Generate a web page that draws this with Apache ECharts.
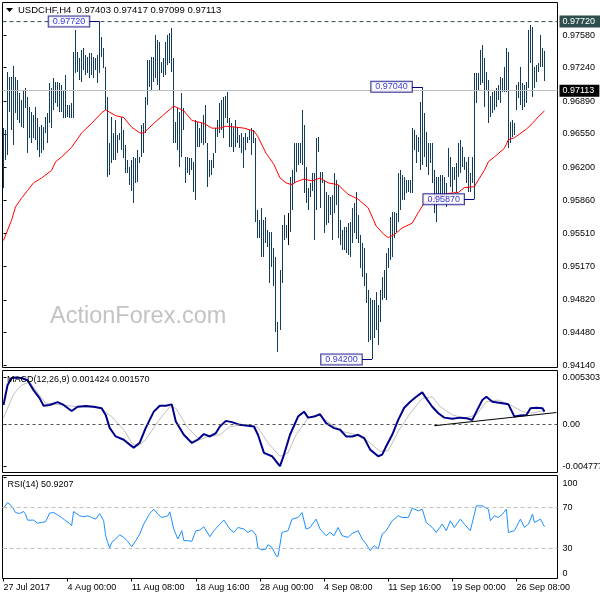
<!DOCTYPE html>
<html><head><meta charset="utf-8">
<script src="https://cdn.jsdelivr.net/npm/echarts@6/dist/echarts.min.js"></script>
<style>html,body{margin:0;padding:0;background:#fff}#c{width:600px;height:600px}</style>
</head><body><div id="c"></div>
<script>
const symbolName = 'USDCHF,H4';
const lastOHLC = ['0.97403', '0.97417', '0.97099', '0.97113'];
const highs = [
 0.9661,0.9659,0.9719,0.9714,0.9714,0.9726,0.9714,0.9711,0.9698,0.9690,
 0.9701,0.9703,0.9693,0.9683,0.9678,0.9675,0.9683,0.9672,0.9662,0.9664,
 0.9662,0.9673,0.9677,0.9708,0.9703,0.9713,0.9709,0.9709,0.9708,0.9706,
 0.9701,0.9716,0.9685,0.9685,0.9687,0.9740,0.9763,0.9740,0.9734,0.9742,
 0.9745,0.9737,0.9735,0.9739,0.9739,0.9735,0.9734,0.9737,0.9772,0.9756,
 0.9744,0.9725,0.9693,0.9646,0.9673,0.9656,0.9669,0.9654,0.9656,0.9673,
 0.9659,0.9643,0.9628,0.9620,0.9628,0.9631,0.9630,0.9638,0.9631,0.9664,
 0.9666,0.9693,0.9732,0.9732,0.9735,0.9735,0.9758,0.9753,0.9751,0.9730,
 0.9734,0.9751,0.9758,0.9760,0.9765,0.9734,0.9667,0.9682,0.9678,0.9698,
 0.9682,0.9631,0.9631,0.9630,0.9630,0.9626,0.9669,0.9667,0.9661,0.9666,
 0.9675,0.9685,0.9645,0.9628,0.9628,0.9635,0.9661,0.9669,0.9687,0.9690,
 0.9693,0.9695,0.9699,0.9672,0.9666,0.9662,0.9669,0.9662,0.9654,0.9656,
 0.9652,0.9656,0.9652,0.9659,0.9661,0.9659,0.9651,0.9576,0.9565,0.9578,
 0.9565,0.9568,0.9555,0.9553,0.9553,0.9536,0.9527,0.9459,0.9513,0.9560,
 0.9570,0.9560,0.9573,0.9610,0.9617,0.9645,0.9645,0.9645,0.9645,0.9680,
 0.9664,0.9620,0.9599,0.9604,0.9614,0.9614,0.9651,0.9652,0.9615,0.9615,
 0.9607,0.9594,0.9591,0.9589,0.9591,0.9614,0.9607,0.9602,0.9565,0.9555,
 0.9558,0.9558,0.9562,0.9563,0.9578,0.9583,0.9594,0.9570,0.9550,0.9541,
 0.9536,0.9510,0.9492,0.9484,0.9482,0.9482,0.9490,0.9477,0.9492,0.9506,
 0.9513,0.9531,0.9536,0.9568,0.9574,0.9574,0.9573,0.9614,0.9617,0.9612,
 0.9610,0.9607,0.9607,0.9607,0.9661,0.9659,0.9654,0.9652,0.9688,0.9704,
 0.9677,0.9657,0.9646,0.9645,0.9646,0.9617,0.9610,0.9610,0.9612,0.9612,
 0.9610,0.9604,0.9640,0.9631,0.9620,0.9620,0.9625,0.9645,0.9649,0.9641,
 0.9631,0.9626,0.9631,0.9614,0.9631,0.9718,0.9718,0.9718,0.9742,0.9748,
 0.9734,0.9719,0.9711,0.9695,0.9699,0.9701,0.9703,0.9706,0.9714,0.9713,
 0.9725,0.9744,0.9740,0.9667,0.9669,0.9666,0.9706,0.9709,0.9725,0.9708,
 0.9706,0.9709,0.9763,0.9768,0.9766,0.9725,0.9727,0.9729,0.9758,0.9745,
 0.97417];
const lows = [
 0.9599,0.9628,0.9633,0.9678,0.9659,0.9643,0.9677,0.9669,0.9666,0.9662,
 0.9661,0.9682,0.9635,0.9651,0.9646,0.9651,0.9649,0.9638,0.9631,0.9635,
 0.9638,0.9656,0.9646,0.9666,0.9661,0.9680,0.9687,0.9683,0.9678,0.9678,
 0.9672,0.9672,0.9673,0.9672,0.9672,0.9672,0.9718,0.9719,0.9711,0.9709,
 0.9722,0.9716,0.9718,0.9713,0.9716,0.9713,0.9722,0.9708,0.9718,0.9735,
 0.9724,0.9680,0.9610,0.9612,0.9625,0.9628,0.9628,0.9635,0.9649,0.9638,
 0.9630,0.9614,0.9614,0.9602,0.9596,0.9583,0.9604,0.9605,0.9625,0.9631,
 0.9635,0.9656,0.9685,0.9704,0.9701,0.9709,0.9713,0.9706,0.9701,0.9718,
 0.9714,0.9716,0.9727,0.9729,0.9719,0.9646,0.9646,0.9638,0.9620,0.9631,
 0.9659,0.9604,0.9614,0.9612,0.9617,0.9594,0.9586,0.9641,0.9641,0.9645,
 0.9643,0.9645,0.9600,0.9610,0.9612,0.9619,0.9635,0.9652,0.9656,0.9659,
 0.9651,0.9672,0.9666,0.9641,0.9641,0.9636,0.9641,0.9645,0.9640,0.9635,
 0.9619,0.9638,0.9645,0.9649,0.9633,0.9646,0.9563,0.9547,0.9547,0.9527,
 0.9527,0.9541,0.9537,0.9500,0.9516,0.9497,0.9449,0.9428,0.9451,0.9500,
 0.9544,0.9547,0.9539,0.9553,0.9576,0.9604,0.9615,0.9623,0.9625,0.9623,
 0.9593,0.9583,0.9576,0.9589,0.9596,0.9544,0.9576,0.9636,0.9578,0.9604,
 0.9552,0.9560,0.9562,0.9570,0.9544,0.9573,0.9581,0.9547,0.9539,0.9534,
 0.9534,0.9531,0.9529,0.9527,0.9541,0.9552,0.9546,0.9541,0.9515,0.9506,
 0.9497,0.9479,0.9438,0.9440,0.9420,0.9442,0.9451,0.9435,0.9459,0.9482,
 0.9484,0.9482,0.9515,0.9524,0.9527,0.9547,0.9553,0.9563,0.9576,0.9586,
 0.9586,0.9593,0.9594,0.9593,0.9593,0.9638,0.9625,0.9636,0.9617,0.9623,
 0.9631,0.9620,0.9612,0.9625,0.9604,0.9573,0.9563,0.9588,0.9584,0.9589,
 0.9589,0.9579,0.9610,0.9600,0.9594,0.9607,0.9594,0.9610,0.9614,0.9620,
 0.9617,0.9604,0.9594,0.9594,0.9604,0.9587,0.9687,0.9701,0.9706,0.9708,
 0.9683,0.9701,0.9666,0.9673,0.9677,0.9680,0.9683,0.9690,0.9687,0.9699,
 0.9699,0.9699,0.9640,0.9646,0.9652,0.9654,0.9680,0.9692,0.9685,0.9680,
 0.9683,0.9687,0.9703,0.9729,0.9693,0.9703,0.9709,0.9719,0.9725,0.9725,
 0.97099];
const dojiBars = [142];

const maIdx = [0,4,6,9,12,15,19,24,26,29,34,39,44,49,51,56,60,64,68,70,75,80,85,87,90,94,100,104,108,111,116,120,125,127,131,135,138,141,144,146,150,154,158,162,167,172,177,182,186,190,192,195,199,204,207,210,215,222,227,230,235,237,240,242,245,250,252,255,259,261,264,267,270];
const maVal = [0.9544,0.9565,0.9579,0.9588,0.9596,0.9604,0.9609,0.9617,0.9626,0.9631,0.9641,0.9656,0.9666,0.9677,0.9680,0.9674,0.9672,0.9662,0.9656,0.9656,0.9666,0.9675,0.9684,0.9682,0.9679,0.9669,0.9666,0.9661,0.9661,0.9663,0.9662,0.9661,0.9658,0.9652,0.9635,0.9623,0.9609,0.9604,0.9602,0.9605,0.9608,0.9606,0.9609,0.9604,0.9602,0.9592,0.9587,0.9578,0.9559,0.9550,0.9547,0.9550,0.9557,0.9562,0.9573,0.9583,0.9588,0.9593,0.9594,0.9599,0.9600,0.9607,0.9617,0.9626,0.9631,0.9640,0.9649,0.9651,0.9657,0.9660,0.9666,0.9673,0.9679];

const macdIdx = [0,2,4,6,9,12,15,18,20,23,27,30,34,37,41,45,49,51,53,56,60,63,65,68,71,75,78,81,84,86,90,94,97,100,103,106,108,111,114,118,122,125,127,130,134,136,138,140,143,147,150,152,155,158,161,165,168,171,174,177,180,183,187,189,191,194,197,200,203,206,209,211,214,217,220,224,228,231,234,236,239,241,244,249,252,255,258,261,263,266,269,270];
const macdVal = [0.00218,0.00443,0.00525,0.00530,0.00525,0.00499,0.00387,0.00296,0.00210,0.00218,
 0.00251,0.00218,0.00150,0.00198,0.00206,0.00198,0.00180,0.00105,-0.00042,-0.00140,
 -0.00177,-0.00233,-0.00267,-0.00211,-0.00042,0.00142,0.00210,0.00210,0.00225,0.00029,
 -0.00121,-0.00214,-0.00177,-0.00113,-0.00140,-0.00101,-0.00027,0.00037,0.00023,-0.00008,
 -0.00019,-0.00027,-0.00121,-0.00327,-0.00365,-0.00422,-0.004777,-0.00346,-0.00121,0.00086,
 0.00142,0.00074,0.00086,0.00113,0.00011,-0.00045,-0.00064,-0.00140,-0.00140,-0.00121,
 -0.00158,-0.00290,-0.00365,-0.00346,-0.00252,-0.00121,0.00048,0.00187,0.00255,0.00311,
 0.00361,0.00293,0.00198,0.00124,0.00074,0.00060,0.00074,0.00068,0.00048,0.00142,
 0.00274,0.00311,0.00255,0.00237,0.00225,0.00086,0.00097,0.00105,0.00180,0.00187,
 0.00180,0.001424];
const sigIdx = [0,5,9,13,21,29,37,48,54,60,64,67,71,77,83,86,92,98,102,108,113,121,127,132,138,142,146,152,157,163,169,176,182,188,192,197,203,209,214,218,224,230,236,241,247,253,259,264,270];
const sigVal = [0.00071,0.00340,0.00445,0.00480,0.00240,0.00218,0.00198,0.00187,0.00086,-0.00064,
 -0.00214,-0.00252,-0.00177,0.00029,0.00198,0.00180,-0.00045,-0.00177,-0.00140,-0.00121,
 -0.00027,-0.00008,-0.00038,-0.00214,-0.00365,-0.00327,-0.00121,0.00068,0.00105,0.00011,
 -0.00083,-0.00121,-0.00196,-0.00309,-0.00301,-0.00083,0.00124,0.00293,0.00311,0.00198,
 0.00105,0.00068,0.00105,0.00255,0.00274,0.00218,0.00142,0.00124,0.00157];
const macdTrendIdx = [215, 276];
const macdTrendVal = [-0.00018, 0.00132];

const rsiIdx = [0,2,4,6,8,10,11,12,15,17, 19,21,23,25,27,29,31,33,34,35, 38,40,42,44,46,48,50,51,52,53,
 54,56,58,60,62,64,66,68,70,73, 75,77,79,82,83,85,87,89,90,92, 94,96,98,100,103,105,108,110,113,115,
 117,120,122,124,126,127,129,131,132,134, 136,137,139,142,144,147,149,151,153,156,
 158,161,163,165,167,169,172,174,177,179, 181,183,185,187,189,191,194,197,199,202,
 204,207,209,211,214,216,219,221,223,225, 228,230,233,236,239,242,243,245,247,249,
 251,252,255,258,260,262,264,265,268,270];
const rsiVal = [69.3,74.8,71.6,65.0,64.0,66.0,63.4,57.5,57.5,54.6, 55.2,55.9,64.4,65.0,62.7,60.1,56.9,54.2,52.0,66.0,
 61.8,60.8,61.8,60.1,58.5,64.0,56.9,42.2,35.6,30.1, 35.6,38.9,43.1,40.5,36.6,31.4,37.3,43.8,53.6,64.0,
 68.3,63.4,60.1,61.8,65.7,48.7,38.9,47.1,37.3,37.3, 36.6,47.1,47.7,51.0,41.2,47.1,53.6,57.5,48.7,45.4,
 50.3,48.7,45.4,47.7,42.8,30.1,28.1,29.1,33.3,30.7, 22.5,21.6,45.4,47.1,58.5,60.1,65.0,48.7,50.3,58.5,
 48.7,42.2,45.4,42.2,50.3,42.2,40.5,44.4,47.1,38.9, 34.0,27.5,32.4,29.1,43.8,47.1,56.9,61.8,60.1,60.1,
 69.3,66.7,68.3,55.2,50.3,45.4,53.6,47.1,56.9,50.3, 58.5,53.6,47.1,71.6,71.6,68.3,56.9,61.8,60.1,63.4,
 68.3,45.4,47.1,58.5,50.3,53.6,63.4,55.2,58.5,50.92];
const rsiLevels = [70, 30];

const priceTicks = [0.94140,0.94480,0.94820,0.95170,0.95510,0.95860,0.96200,0.96550,0.96890,0.97240,0.97580];
const macdTicks = [-0.004777, 0, 0.005303];
const rsiTicks = [0, 30, 70, 100];
const timeLabelIdx = [0,32,64,96,128,160,192,224,256];
const timeLabels = ['27 Jul 2017','4 Aug 00:00','11 Aug 08:00','18 Aug 16:00','28 Aug 00:00','4 Sep 08:00','11 Sep 16:00','19 Sep 00:00','26 Sep 08:00'];
const swingIdx = [48, 209, 235, 184];
const swingVal = [0.97720, 0.97040, 0.95870, 0.94200];
const hiLevel = 0.97720;
const lastPrice = 0.97113;
const macdLabel = 'MACD(12,26,9) 0.001424 0.001570';
const rsiLabel = 'RSI(14) 50.9207';
const watermark = 'ActionForex.com';

const FONT = '"Liberation Sans", Arial, sans-serif';
const FS = 9;
const barColor = '#123d5a';
const X_MIN = -0.5, X_MAX = 276.5;
const chart = echarts.init(document.getElementById('c'), null, {renderer: 'canvas', width: 600, height: 600});
const bars = highs.map((h, i) => [i, h, lows[i], dojiBars.indexOf(i) >= 0 ? 1 : 0]);
const pairs = (a, b) => a.map((x, k) => [x, b[k]]);
const gridBase = {left: 2.5, right: 42.5, show: true, borderColor: '#000', borderWidth: 1, containLabel: false, outerBoundsMode: 'none'};
const xBase = {type: 'value', min: X_MIN, max: X_MAX, splitLine: {show: false}};
const lbl = {color: '#000', fontSize: FS, fontFamily: FONT};
const yBase = {type: 'value', position: 'right', splitLine: {show: false}, axisLine: {show: false}};
const axisBox = (bg) => ({show: true, distance: 2, color: '#fff', backgroundColor: bg,
  padding: [2, 5, 1, 3], fontSize: FS, fontFamily: FONT});

const option = {
  animation: false,
  backgroundColor: '#fff',
  textStyle: {fontFamily: FONT},
  grid: [
    Object.assign({}, gridBase, {top: 2.5, height: 365}),
    Object.assign({}, gridBase, {top: 370.5, height: 102}),
    Object.assign({}, gridBase, {top: 475.5, height: 103})
  ],
  xAxis: [
    Object.assign({}, xBase, {gridIndex: 0, show: false}),
    Object.assign({}, xBase, {gridIndex: 1, show: false}),
    Object.assign({}, xBase, {gridIndex: 2, position: 'bottom', axisLine: {show: false},
      axisTick: {show: true, customValues: timeLabelIdx, length: 3, lineStyle: {color: '#000'}},
      axisLabel: Object.assign({show: true, customValues: timeLabelIdx, align: 'left', margin: 5,
        formatter: v => timeLabels[timeLabelIdx.indexOf(Math.round(v))] || ''}, lbl)})
  ],
  yAxis: [
    Object.assign({}, yBase, {gridIndex: 0, min: 0.94116, max: 0.97919,
      axisTick: {show: true, customValues: priceTicks, length: 3, lineStyle: {color: '#000'}},
      axisLabel: Object.assign({customValues: priceTicks, margin: 5, formatter: v => v.toFixed(5)}, lbl)}),
    Object.assign({}, yBase, {gridIndex: 1, min: -0.0055, max: 0.0061,
      axisTick: {show: true, customValues: macdTicks, length: 3, lineStyle: {color: '#000'}},
      axisLabel: Object.assign({customValues: macdTicks, margin: 5, formatter: v => v === 0 ? '0.00' : v.toFixed(6)}, lbl)}),
    Object.assign({}, yBase, {gridIndex: 2, min: 0, max: 101.5,
      axisTick: {show: true, customValues: rsiTicks, length: 3, lineStyle: {color: '#000'}},
      axisLabel: Object.assign({customValues: rsiTicks, margin: 5,
        formatter: v => v === 100 ? '{t|100}' : (v === 0 ? '{b|0}' : String(v)),
        rich: {t: Object.assign({padding: [12, 0, 0, 0]}, lbl), b: Object.assign({padding: [0, 0, 10, 0]}, lbl)}}, lbl)})
  ],
  graphic: [
    {type: 'text', x: 50, y: 317, z: 0, silent: true, style: {text: watermark, fill: '#c3c3c3', font: '23.5px ' + FONT, verticalAlign: 'middle'}},
    {type: 'polygon', z: 10, shape: {points: [[6, 8], [13, 8], [9.5, 12]]}, style: {fill: '#000'}},
    {type: 'text', x: 18, y: 10.5, z: 10, style: {text: symbolName + '  ' + lastOHLC.join(' '), fill: '#000', font: '9.5px ' + FONT, verticalAlign: 'middle'}},
    {type: 'text', x: 7, y: 380, z: 10, style: {text: macdLabel, fill: '#000', font: FS + 'px ' + FONT, verticalAlign: 'middle'}},
    {type: 'text', x: 7.5, y: 485, z: 10, style: {text: rsiLabel, fill: '#000', font: FS + 'px ' + FONT, verticalAlign: 'middle'}}
  ],
  series: [
    {type: 'line', xAxisIndex: 0, yAxisIndex: 0, data: [], z: 1, silent: true,
      markLine: {silent: true, symbol: ['none', 'none'], animation: false, data: [
        {yAxis: lastPrice, lineStyle: {color: '#c0c0c0', type: 'solid', width: 1},
          label: Object.assign(axisBox('#000'), {position: 'end', formatter: lastPrice.toFixed(5)})}
      ]}},
    {type: 'custom', xAxisIndex: 0, yAxisIndex: 0, z: 2, data: bars, encode: {x: 0, y: [1, 2]}, clip: true,
      renderItem: function (params, api) {
        const i = api.value(0);
        const pH = api.coord([i, api.value(1)]);
        const pL = api.coord([i, api.value(2)]);
        const x = Math.floor(pH[0]);
        const y1 = Math.round(pH[1]);
        const y2 = Math.round(pL[1]);
        return {type: 'rect', shape: {x: x, y: y1, width: 1, height: Math.max(1, y2 - y1)},
          style: {fill: api.value(3) ? '#000' : barColor}};
      }},
    {type: 'line', xAxisIndex: 0, yAxisIndex: 0, z: 3, data: [[X_MIN, hiLevel], [X_MAX, hiLevel]], symbol: 'none',
      silent: true, clip: false, lineStyle: {color: '#2f4f4f', type: [4, 3], width: 1},
      endLabel: Object.assign(axisBox('#2f4f4f'), {formatter: () => hiLevel.toFixed(5)})},
    {type: 'line', xAxisIndex: 0, yAxisIndex: 0, z: 3, data: pairs(maIdx, maVal), symbol: 'none',
      lineStyle: {color: '#ff0000', width: 1}},
    {type: 'lines', coordinateSystem: 'cartesian2d', xAxisIndex: 0, yAxisIndex: 0, z: 4,
      lineStyle: {color: '#000080', width: 1, opacity: 1},
      data: swingIdx.map((b, k) => ({coords: [[b - 5.2, swingVal[k]], [b, swingVal[k]]]}))},
    {type: 'scatter', xAxisIndex: 0, yAxisIndex: 0, z: 5, symbolSize: 0,
      data: swingIdx.map((b, k) => [b - 5.2, swingVal[k]]),
      label: {show: true, position: 'left', distance: 0, formatter: p => p.value[1].toFixed(5),
        color: '#0000d0', backgroundColor: '#fff', borderColor: '#000080', borderWidth: 1,
        padding: [1, 4, 0, 4], fontSize: FS, fontFamily: FONT}},
    {type: 'line', xAxisIndex: 1, yAxisIndex: 1, z: 2, data: pairs(sigIdx, sigVal), symbol: 'none',
      lineStyle: {color: '#c0c0c0', width: 1}},
    {type: 'line', xAxisIndex: 1, yAxisIndex: 1, z: 3, data: pairs(macdIdx, macdVal), symbol: 'none',
      lineStyle: {color: '#00008b', width: 2},
      markLine: {silent: true, symbol: ['none', 'none'], label: {show: false},
        data: [{yAxis: 0, lineStyle: {color: '#555', type: [3, 3], width: 1}}]}},
    {type: 'line', xAxisIndex: 1, yAxisIndex: 1, z: 4, data: pairs(macdTrendIdx, macdTrendVal), symbol: 'none',
      lineStyle: {color: '#000', width: 1}},
    {type: 'line', xAxisIndex: 2, yAxisIndex: 2, z: 3, data: pairs(rsiIdx, rsiVal), symbol: 'none',
      lineStyle: {color: '#1e90ff', width: 1},
      markLine: {silent: true, symbol: ['none', 'none'], label: {show: false},
        data: rsiLevels.map(v => ({yAxis: v, lineStyle: {color: '#c0c0c0', type: [4, 3], width: 1}}))}}
  ]
};
chart.setOption(option);
</script>
</body></html>
